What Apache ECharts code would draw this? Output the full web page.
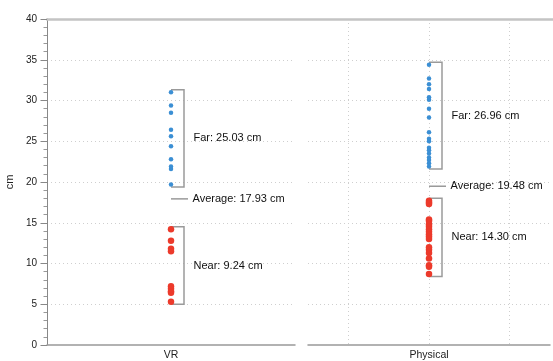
<!DOCTYPE html>
<html><head><meta charset="utf-8">
<script src="https://cdn.jsdelivr.net/npm/echarts@6/dist/echarts.min.js"></script>
<style>html,body{margin:0;padding:0;background:#fff}#c{width:553px;height:361px}</style>
</head><body><div id="c"></div>
<script>
// ---- data ----
const conditions = ['VR', 'Physical'];
const vrFar = [31.0, 29.4, 28.5, 26.4, 25.6, 24.4, 22.8, 21.9, 21.6, 19.7];
const vrNear = [14.2, 12.8, 11.8, 11.5, 7.2, 6.9, 6.6, 6.4, 5.3];
const physFar = [34.4, 32.7, 32.0, 31.4, 30.4, 30.1, 29.0, 27.9, 26.1, 25.3, 25.0, 24.2, 23.9, 23.5, 23.0, 22.7, 22.3, 21.9];
const physNear = [17.7, 17.5, 17.3, 15.4, 15.2, 14.8, 14.5, 14.2, 13.9, 13.6, 13.3, 13.0, 12.0, 11.7, 11.3, 10.6, 9.8, 9.6, 8.7];
const farMeans = [25.03, 26.96];
const nearMeans = [9.24, 14.30];
const avgMeans = [17.93, 19.48];
const yTickValues = [0, 5, 10, 15, 20, 25, 30, 35, 40];
const physSlots = ['', '', '', 'Physical', '', '', ''];
const yName = 'cm';

// ---- style ----
const FONT = 'Liberation Sans, Arial, Helvetica, sans-serif';
const BLUE = '#3b8fd4', RED = '#ec3a2b', GRAY = '#9a9a9a';
const DOT = {color: '#cfcfcf', width: 1, type: [1, 3]};

const physIdx = physSlots.indexOf('Physical');

function bracketData(xIdx, far, near, ci) {
  return {
    data: [
      [xIdx, Math.min(...far), Math.max(...far), 0],
      [xIdx, Math.min(...near), Math.max(...near), 0],
      [xIdx, avgMeans[ci], avgMeans[ci], 1]
    ],
    labels: [
      'Far: ' + farMeans[ci].toFixed(2) + ' cm',
      'Near: ' + nearMeans[ci].toFixed(2) + ' cm',
      'Average: ' + avgMeans[ci].toFixed(2) + ' cm'
    ]
  };
}

function makeRender(labels) {
  return function (params, api) {
    const x = api.value(0), lo = api.value(1), hi = api.value(2), kind = api.value(3);
    const pTop = api.coord([x, hi]), pBot = api.coord([x, lo]);
    const px = pTop[0];
    const txtStyle = {text: labels[params.dataIndex], fill: '#111', font: '11px ' + FONT, textVerticalAlign: 'middle', textAlign: 'left'};
    if (kind === 1) {
      return {type: 'group', children: [
        {type: 'line', shape: {x1: px, y1: pTop[1], x2: px + 17, y2: pTop[1]}, style: {stroke: GRAY, lineWidth: 1.5}},
        {type: 'text', x: px + 21.5, y: pTop[1], style: txtStyle}
      ]};
    }
    const top = pTop[1] - 2.5, bot = pBot[1] + 2.5, bx = px + 13;
    return {type: 'group', children: [
      {type: 'polyline', shape: {points: [[px, top], [bx, top], [bx, bot], [px, bot]]}, style: {stroke: GRAY, lineWidth: 1.5, fill: null}},
      {type: 'text', x: px + 22.5, y: (top + bot) / 2, style: txtStyle}
    ]};
  };
}

const b0 = bracketData(0, vrFar, vrNear, 0);
const b1 = bracketData(physIdx, physFar, physNear, 1);

const chart = echarts.init(document.getElementById('c'), null, {renderer: 'canvas'});
const baseX = {
  axisLine: {show: true, onZero: false, lineStyle: {color: '#999', width: 1.5}},
  axisTick: {show: false},
  axisLabel: {margin: 5, fontSize: 10.5, color: '#222', fontFamily: FONT}
};
chart.setOption({
  animation: false,
  textStyle: {fontFamily: FONT},
  grid: [
    {left: 47, width: 248, top: 19, bottom: 12.7},
    {left: 308, right: 0, top: 19, bottom: 12.7},
    {left: 47, right: 0, top: 19, bottom: 12.7}
  ],
  xAxis: [
    Object.assign({gridIndex: 0, type: 'category', data: [conditions[0]], boundaryGap: true, splitLine: {show: false}}, baseX),
    Object.assign({gridIndex: 1, type: 'value', min: 0, max: physSlots.length - 1, interval: 1,
      splitLine: {show: true, showMinLine: false, showMaxLine: false,
        lineStyle: {color: ['#cfcfcf', 'rgba(0,0,0,0)'], width: 1, type: [1, 3]}}}, baseX,
      {axisLabel: Object.assign({}, baseX.axisLabel, {formatter: (v) => physSlots[Math.round(v)] || ''})}),
    {gridIndex: 2, type: 'value', position: 'top', axisLine: {show: true, onZero: false, lineStyle: {color: '#c4c4c4', width: 2.5}},
      axisTick: {show: false}, axisLabel: {show: false}, splitLine: {show: false}}
  ],
  yAxis: [
    {gridIndex: 0, type: 'value', min: yTickValues[0], max: yTickValues[yTickValues.length - 1], interval: yTickValues[1] - yTickValues[0],
      name: yName, nameLocation: 'middle', nameGap: 32, nameTextStyle: {fontSize: 11, color: '#222', fontFamily: FONT},
      axisLine: {show: true, onZero: false, lineStyle: {color: '#888', width: 1}},
      axisTick: {show: true, length: 6.5, lineStyle: {color: '#888'}},
      minorTick: {show: true, splitNumber: 5, length: 3.5, lineStyle: {color: '#999'}},
      axisLabel: {fontSize: 10, color: '#222', margin: 10, fontFamily: FONT},
      splitLine: {show: true, showMinLine: false, showMaxLine: false, lineStyle: DOT}},
    {gridIndex: 1, type: 'value', min: yTickValues[0], max: yTickValues[yTickValues.length - 1], interval: yTickValues[1] - yTickValues[0],
      axisLine: {show: false}, axisTick: {show: false}, axisLabel: {show: false},
      splitLine: {show: true, showMinLine: false, showMaxLine: false, lineStyle: DOT}},
    {gridIndex: 2, type: 'value', min: 0, max: 1, show: false}
  ],
  series: [
    {type: 'custom', xAxisIndex: 0, yAxisIndex: 0, data: b0.data, renderItem: makeRender(b0.labels), encode: {x: 0, y: [1, 2]}, silent: true, z: 1},
    {type: 'custom', xAxisIndex: 1, yAxisIndex: 1, data: b1.data, renderItem: makeRender(b1.labels), encode: {x: 0, y: [1, 2]}, silent: true, z: 1},
    {type: 'scatter', xAxisIndex: 0, yAxisIndex: 0, symbol: 'circle', symbolSize: 4.5, itemStyle: {color: BLUE, opacity: 1}, data: vrFar.map(v => [0, v]), z: 3},
    {type: 'scatter', xAxisIndex: 0, yAxisIndex: 0, symbol: 'circle', symbolSize: 6.5, itemStyle: {color: RED, opacity: 1}, data: vrNear.map(v => [0, v]), z: 3},
    {type: 'scatter', xAxisIndex: 1, yAxisIndex: 1, symbol: 'circle', symbolSize: 4.5, itemStyle: {color: BLUE, opacity: 1}, data: physFar.map(v => [physIdx, v]), z: 3},
    {type: 'scatter', xAxisIndex: 1, yAxisIndex: 1, symbol: 'circle', symbolSize: 6.5, itemStyle: {color: RED, opacity: 1}, data: physNear.map(v => [physIdx, v]), z: 3}
  ]
});
</script>
</body></html>
